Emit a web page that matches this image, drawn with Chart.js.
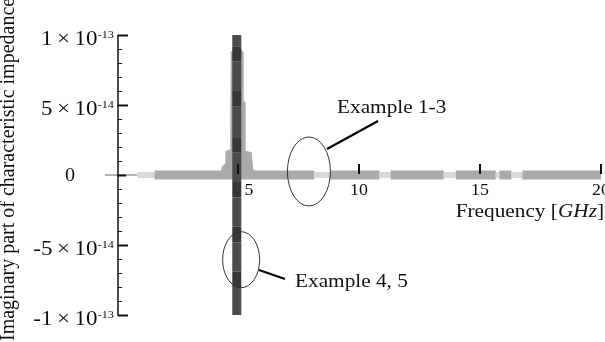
<!DOCTYPE html>
<html lang="en">
<head>
<meta charset="UTF-8">
<title>Imaginary part of characteristic impedance</title>
<script src="https://cdn.jsdelivr.net/npm/chart.js"></script>
<style>
  html, body { margin: 0; padding: 0; background: #fff; }
  .chart-container { width: 605px; height: 342px; position: relative; }
</style>
</head>
<body>
<div class="chart-container"><canvas id="impedanceChart" width="605" height="342"></canvas></div>
<script>
// axis ticks: frequency in GHz, impedance as mantissa x 10^exponent
const xTicks = [5, 10, 15, 20];
const yTicks = [1e-13, 5e-14, 0, -5e-14, -1e-13];
const yTickMantissa = ['1', '5', '0', '-5', '-1'];
const yTickExponent = ['-13', '-14', '', '-14', '-13'];
const yMinorStep = 1e-14;

// Example 1-3: flat trace around zero, break points and shade of each stretch
const bandFreq = [-0.5, 0.85, 1.55, 8.15, 8.8, 10.85, 11.3, 13.5, 14.0, 15.65, 15.8, 16.3, 16.75, 20];
const bandShade = ['thin', 'light', 'grey', 'light', 'grey', 'light', 'grey', 'light', 'grey', 'light', 'grey', 'light', 'grey'];

// Example 1-3: peak close to the resonance
const peakFreq = [4.3, 4.35, 4.5, 4.5, 4.7, 4.72, 4.9, 5.1, 5.2, 5.2, 5.28, 5.28, 5.55, 5.6, 5.7];
const peakValue = [0, 0.6e-14, 0.8e-14, 1.7e-14, 1.8e-14, 8.8e-14, 9.0e-14, 9.0e-14, 8.8e-14, 5.3e-14, 5.2e-14, 1.7e-14, 1.6e-14, 0.5e-14, 0];

// Example 4, 5: vertical trace at the resonance, split where the shade changes
const resonanceFreq = 4.95;
const resonanceValue = [1e-13, 9.2e-14, 8.1e-14, 6.0e-14, 4.9e-14, 2.7e-14, 1.6e-14, -0.5e-14, -1.6e-14, -3.7e-14, -4.8e-14, -6.9e-14, -8.0e-14, -1e-13];

const shadeColor = { thin: '#9a9a9a', light: '#d9d9d9', grey: '#aaaaaa' };
const shadeWidth = { thin: 1.5, light: 6, grey: 9 };

const SERIF = '"Liberation Serif", "Times New Roman", serif';

function wideText(ctx, str, x, y, font, align, sx = 1.12) {
    ctx.save();
    ctx.translate(x, y);
    ctx.scale(sx, 1);
    ctx.font = font;
    ctx.textAlign = align;
    ctx.textBaseline = 'alphabetic';
    ctx.fillText(str, 0, 0);
    ctx.restore();
}
function wideWidth(ctx, str, font, sx = 1.12) {
    ctx.font = font;
    return ctx.measureText(str).width * sx;
}

// axes, labels and the two call-outs
const axesAndNotes = {
    id: 'axesAndNotes',
    afterDatasetsDraw(chart) {
        const ctx = chart.ctx;
        const xs = chart.scales.x, ys = chart.scales.y;
        const x0 = xs.getPixelForValue(0) + 1;
        const y0 = ys.getPixelForValue(0);
        ctx.save();
        ctx.fillStyle = '#111';
        ctx.strokeStyle = '#111';

        // y axis line, major and minor ticks
        ctx.lineWidth = 1.5;
        ctx.beginPath();
        ctx.moveTo(x0, ys.getPixelForValue(1e-13));
        ctx.lineTo(x0, ys.getPixelForValue(-1e-13));
        ctx.stroke();
        for (let v = -10; v <= 10; v++) {
            const py = Math.round(ys.getPixelForValue(v * yMinorStep)) + 0.5;
            const len = v % 5 === 0 ? (v === 0 ? 8 : 10) : 4;
            ctx.lineWidth = v % 5 === 0 ? 2 : 1;
            ctx.beginPath();
            ctx.moveTo(x0 - 0.5, py);
            ctx.lineTo(x0 + len, py);
            ctx.stroke();
        }

        // y tick labels
        const mainFont = '20px ' + SERIF;
        const supFont = '11px ' + SERIF;
        yTicks.forEach((v, i) => {
            const py = ys.getPixelForValue(v);
            if (!yTickExponent[i]) {
                wideText(ctx, yTickMantissa[i], 70, py + 6, '18px ' + SERIF, 'center');
                return;
            }
            const main = yTickMantissa[i] + '\u2009\u00d7\u200910';
            const supW = wideWidth(ctx, yTickExponent[i], supFont);
            const supX = 114 - supW;
            wideText(ctx, yTickExponent[i], supX, py + 3, supFont, 'left');
            wideText(ctx, main, supX, py + 10, mainFont, 'right', 1.15);
        });

        // x ticks and labels
        ctx.lineWidth = 2;
        xTicks.forEach(v => {
            const px = Math.round(xs.getPixelForValue(v));
            ctx.beginPath();
            ctx.moveTo(px, y0 - 11);
            ctx.lineTo(px, y0 - 1);
            ctx.stroke();
            const lx = v === 5 ? px + 11 : px;
            wideText(ctx, String(v), lx, y0 + 20, '17px ' + SERIF, 'center', 1.05);
        });

        // x axis title, GHz in italics
        const tFont = '19px ' + SERIF;
        const tItal = 'italic 19px ' + SERIF;
        let rx = 604;
        const wClose = wideWidth(ctx, ']', tFont);
        const wUnit = wideWidth(ctx, 'GHz', tItal);
        wideText(ctx, ']', rx, 217, tFont, 'right');
        rx -= wClose;
        wideText(ctx, 'GHz', rx, 217, tItal, 'right');
        rx -= wUnit;
        wideText(ctx, 'Frequency [', rx, 217, tFont, 'right');

        // y axis title
        ctx.save();
        ctx.translate(14, 341);
        ctx.rotate(-Math.PI / 2);
        ctx.font = '20px ' + SERIF;
        ctx.textAlign = 'left';
        ctx.fillText('Imaginary part of characteristic impedance', 0, 0);
        ctx.restore();

        // call-outs
        const notes = [
            { freq: 7.93, value: 0.25e-14, rx: 21.5, ry: 34.5, from: [327, 149], to: [378, 121], text: 'Example 1-3', tx: 337, ty: 113 },
            { freq: 5.13, value: -6.05e-14, rx: 18.5, ry: 28, from: [259, 270], to: [285, 279], text: 'Example 4, 5', tx: 295, ty: 287 }
        ];
        notes.forEach(n => {
            const cx = xs.getPixelForValue(n.freq), cy = ys.getPixelForValue(n.value);
            ctx.lineWidth = 1;
            ctx.strokeStyle = '#333';
            ctx.beginPath();
            ctx.ellipse(cx, cy, n.rx, n.ry, 0, 0, Math.PI * 2);
            ctx.stroke();
            ctx.lineWidth = 2;
            ctx.strokeStyle = '#000';
            ctx.beginPath();
            ctx.moveTo(n.from[0], n.from[1]);
            ctx.lineTo(n.to[0], n.to[1]);
            ctx.stroke();
            wideText(ctx, n.text, n.tx, n.ty, tFont, 'left');
        });
        ctx.restore();
    }
};

const ctx = document.getElementById('impedanceChart').getContext('2d');
const impedanceChart = new Chart(ctx, {
    type: 'scatter',
    data: {
        datasets: [
            {
                label: 'Example 4, 5',
                data: resonanceValue.map(v => ({ x: resonanceFreq, y: v })),
                showLine: true,
                pointRadius: 0,
                borderWidth: 9,
                borderCapStyle: 'butt',
                borderColor: '#4b4b4b',
                segment: {
                    borderColor: c => (c.p0DataIndex % 2 === 1 ? '#373737' : '#4b4b4b')
                },
                order: 0
            },
            {
                label: 'Example 1-3 peak',
                data: peakFreq.map((f, i) => ({ x: f, y: peakValue[i] })),
                showLine: true,
                pointRadius: 0,
                borderWidth: 1,
                borderColor: '#aaaaaa',
                backgroundColor: '#aaaaaa',
                fill: 'origin',
                tension: 0,
                order: 1
            },
            {
                label: 'Example 1-3',
                data: bandFreq.map(f => ({ x: f, y: 0 })),
                showLine: true,
                pointRadius: 0,
                borderCapStyle: 'butt',
                borderColor: '#aaaaaa',
                borderWidth: 9,
                clip: false,
                segment: {
                    borderColor: c => shadeColor[bandShade[c.p0DataIndex]],
                    borderWidth: c => shadeWidth[bandShade[c.p0DataIndex]]
                },
                order: 2
            }
        ]
    },
    options: {
        responsive: false,
        animation: false,
        events: [],
        layout: { padding: { left: 117, right: 4, top: 35, bottom: 27 } },
        scales: {
            x: { type: 'linear', min: 0, max: 20, display: false },
            y: { type: 'linear', min: -1e-13, max: 1e-13, display: false }
        },
        plugins: {
            legend: { display: false },
            tooltip: { enabled: false }
        }
    },
    plugins: [axesAndNotes]
});
</script>
</body>
</html>
